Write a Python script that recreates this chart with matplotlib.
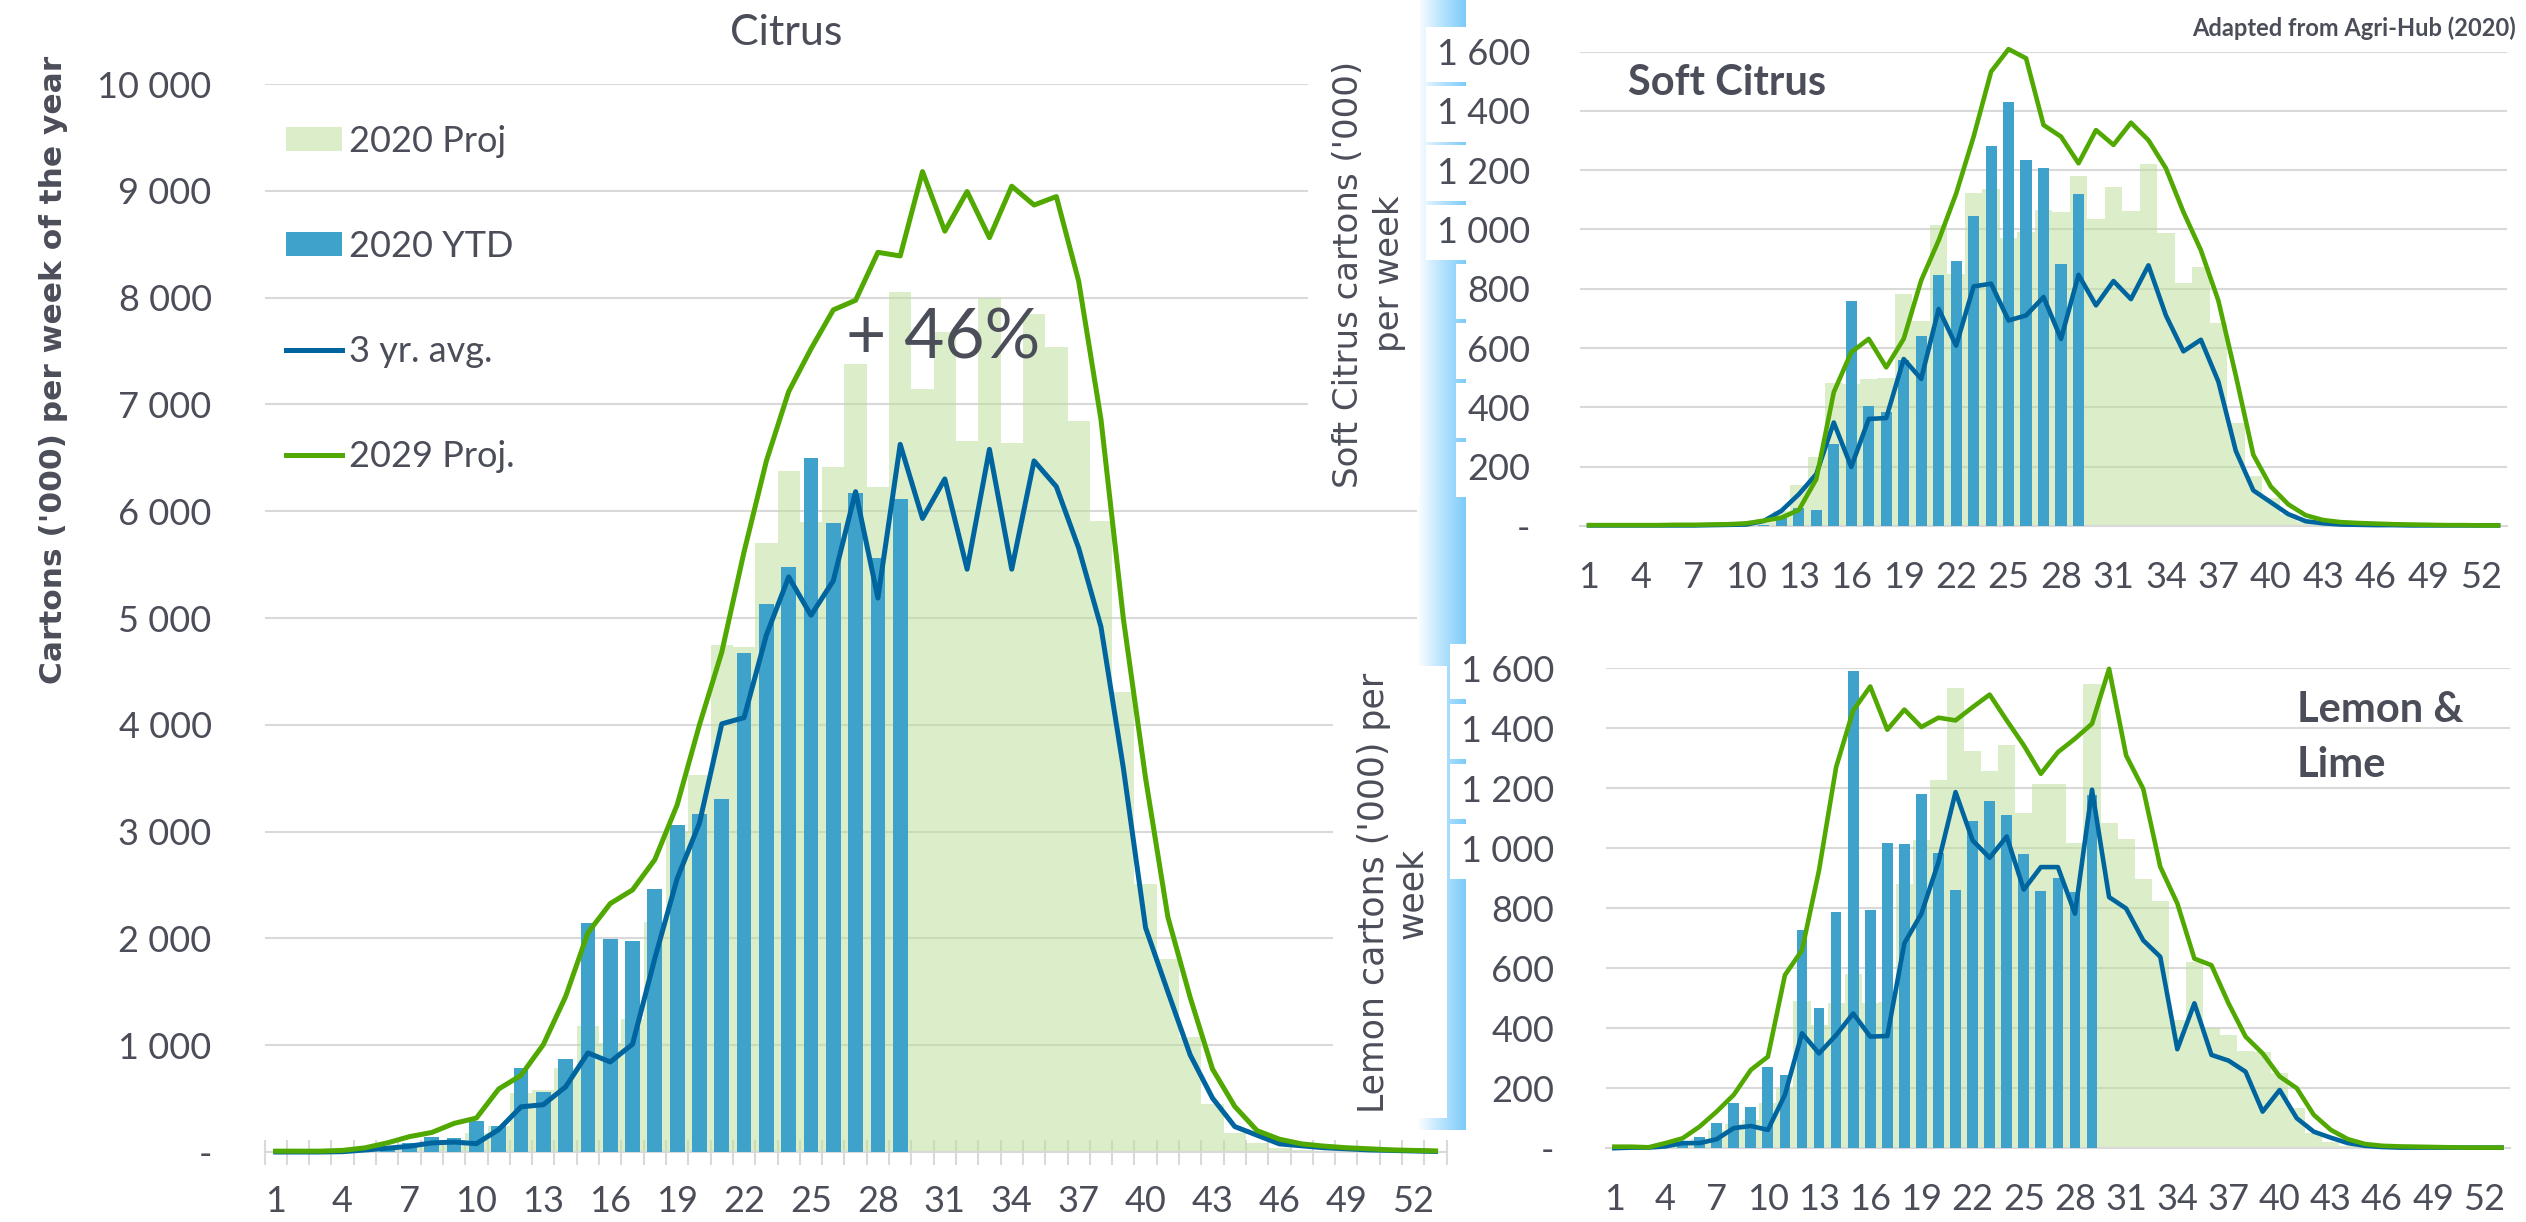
import matplotlib.pyplot as plt
import numpy as np
from matplotlib.patches import Rectangle
from matplotlib.colors import LinearSegmentedColormap

plt.rcParams['font.family'] = ['Lato', 'DejaVu Sans']

# ---- data (weeks 1..53) ----
weeks = list(range(1, 54))
label_weeks = list(range(1, 53, 3))
week_labels = [str(w) for w in label_weeks]

# Citrus (all), '000 cartons per week
citrus_proj2020 = [0, 0, 0, 5, 15, 30, 50, 80, 110, 180, 240, 550, 580, 790, 1180, 1020, 1250, 2150,
                   3000, 3530, 4745, 4730, 5700, 6380, 5900, 6410, 7380, 6230, 8050, 7140, 7680, 6660,
                   8000, 6640, 7850, 7540, 6840, 5910, 4310, 2510, 1810, 1080, 450, 180, 80, 35, 15, 8,
                   5, 3, 2, 1, 0]
citrus_ytd2020 = [0, 0, 0, 0, 10, 20, 82, 141, 130, 287, 242, 790, 559, 872, 2142, 1996, 1976, 2463,
                  3064, 3162, 3303, 4670, 5135, 5475, 6500, 5888, 6169, 5565, 6115]
citrus_avg3 = [0, 0, 0, 3, 19, 35, 54, 85, 93, 78, 210, 423, 443, 610, 928, 843, 1010, 1814, 2560,
               3080, 4009, 4067, 4840, 5385, 5025, 5349, 6183, 5187, 6626, 5932, 6302, 5457, 6579,
               5457, 6471, 6230, 5655, 4917, 3600, 2100, 1500, 909, 505, 238, 157, 76, 58, 40, 30,
               20, 15, 10, 5]
citrus_proj2029 = [8, 8, 8, 15, 39, 85, 144, 183, 268, 318, 590, 718, 1006, 1456, 2054, 2326, 2454,
                   2738, 3250, 4000, 4680, 5620, 6470, 7120, 7520, 7885, 7975, 8424, 8390, 9180, 8622,
                   8993, 8561, 9043, 8867, 8946, 8155, 6860, 5000, 3500, 2200, 1447, 777, 426, 200,
                   120, 76, 55, 40, 30, 20, 15, 10]

# Soft citrus
soft_proj2020 = [0, 0, 0, 0, 0, 0, 0, 0, 2, 5, 15, 50, 139, 231, 482, 480, 496, 499, 783, 691, 1016,
                 850, 1123, 1135, 970, 990, 1065, 1060, 1180, 1034, 1143, 1061, 1219, 989, 820, 872,
                 683, 347, 167, 93, 40, 15, 8, 5, 3, 2, 1, 1, 0, 0, 0, 0, 0]
soft_ytd2020 = [0, 0, 0, 0, 0, 0, 0, 0, 0, 0, 5, 26, 60, 54, 276, 758, 405, 386, 560, 642, 845, 895,
                1046, 1280, 1430, 1234, 1207, 882, 1121]
soft_avg3 = [2, 2, 2, 2, 2, 2, 2, 3, 4, 5, 17, 51, 107, 175, 349, 199, 361, 364, 563, 496, 732, 608,
             808, 817, 693, 710, 772, 631, 847, 744, 826, 765, 879, 710, 589, 628, 487, 253, 120, 80,
             40, 16, 9, 5, 4, 3, 3, 2, 2, 2, 2, 2, 2]
soft_proj2029 = [3, 3, 3, 3, 3, 4, 4, 5, 6, 9, 18, 28, 54, 158, 451, 586, 631, 535, 631, 828, 963,
                 1121, 1313, 1532, 1608, 1577, 1352, 1313, 1223, 1335, 1285, 1360, 1301, 1206, 1059,
                 930, 760, 507, 240, 133, 73, 36, 20, 13, 10, 8, 6, 5, 4, 3, 3, 2, 2]

# Lemon & lime
lemon_proj2020 = [0, 0, 0, 5, 20, 30, 60, 80, 95, 150, 200, 492, 411, 483, 580, 483, 488, 880, 1026,
                  1229, 1535, 1323, 1257, 1343, 1118, 1215, 1215, 1019, 1548, 1084, 1032, 897, 823,
                  429, 621, 400, 377, 325, 320, 250, 133, 50, 20, 8, 3, 0, 0, 0, 0, 0, 0, 0, 0]
lemon_ytd2020 = [0, 0, 0, 0, 10, 36, 83, 150, 136, 272, 244, 727, 469, 786, 1590, 793, 1019, 1015,
                 1182, 985, 860, 1091, 1157, 1110, 982, 857, 902, 854, 1176]
lemon_avg3 = [0, 2, 2, 6, 17, 17, 30, 67, 74, 61, 178, 383, 316, 377, 449, 372, 374, 683, 782, 954,
              1187, 1026, 968, 1039, 862, 937, 937, 782, 1195, 837, 799, 693, 638, 330, 483, 311, 292,
              255, 122, 194, 100, 55, 35, 17, 8, 4, 2, 2, 2, 2, 2, 2, 2]
lemon_proj2029 = [5, 5, 3, 17, 33, 72, 122, 178, 261, 305, 577, 660, 927, 1270, 1459, 1539, 1395,
                  1462, 1404, 1435, 1426, 1470, 1512, 1426, 1343, 1248, 1320, 1365, 1415, 1598, 1309,
                  1198, 938, 816, 632, 610, 483, 372, 316, 239, 200, 111, 61, 30, 14, 8, 6, 5, 4, 3,
                  2, 2, 2]

main_yticks = list(range(0, 10001, 1000))
main_ylabels = ['-'] + ['{:,}'.format(v).replace(',', ' ') for v in main_yticks[1:]]
small_yticks = list(range(0, 1601, 200))
small_ylabels = ['-'] + ['{:,}'.format(v).replace(',', ' ') for v in small_yticks[1:]]

series_names = ['2020 Proj', '2020 YTD', '3 yr. avg.', '2029 Proj.']

# ---- style ----
C_PROJ = '#bbdd97'
C_YTD = '#3fa2cb'
C_AVG = '#00659f'
C_2029 = '#50a800'
C_GRID = '#d9d9d9'
C_TEXT = '#4b4e59'

W, H = 2526, 1222


def px_axes(left, top, right, bottom):
    return [left / W, 1 - bottom / H, (right - left) / W, (bottom - top) / H]


def draw_panel(ax, proj, ytd, avg, p2029, bar_w, lw, yticks, ylabels, ypad, xpad):
    h_proj = ax.bar(weeks, proj, width=1.0, color=C_PROJ, alpha=0.5, zorder=2)
    h_ytd = ax.bar(weeks[:len(ytd)], ytd, width=bar_w, color=C_YTD, zorder=3)
    h_avg, = ax.plot(weeks, avg, color=C_AVG, lw=lw, zorder=4, clip_on=False)
    h_2029, = ax.plot(weeks, p2029, color=C_2029, lw=lw, zorder=5, clip_on=False)
    ax.set_xlim(0.5, 53.5)
    ax.set_ylim(yticks[0], yticks[-1])
    ax.set_yticks(yticks)
    ax.set_yticklabels(ylabels)
    ax.set_xticks(label_weeks, minor=True)
    ax.set_xticklabels(week_labels, minor=True)
    ax.set_axisbelow(True)
    ax.grid(axis='y', color=C_GRID, lw=1.5)
    for s in ['top', 'right', 'left']:
        ax.spines[s].set_visible(False)
    ax.spines['bottom'].set_color(C_GRID)
    ax.spines['bottom'].set_linewidth(1.5)
    ax.tick_params(axis='y', length=0, pad=ypad, labelsize=26, labelcolor=C_TEXT)
    ax.tick_params(axis='x', which='minor', length=0, pad=xpad, labelsize=26, labelcolor=C_TEXT)
    return [h_proj, h_ytd, h_avg, h_2029]


fig = plt.figure(figsize=(W / 100, H / 100), dpi=100)

# main citrus chart
ax = fig.add_axes(px_axes(264.5, 84, 1446.7, 1152))
handles = draw_panel(ax, citrus_proj2020, citrus_ytd2020, citrus_avg3, citrus_proj2029, 0.66, 3.6,
                     main_yticks, main_ylabels, 38, 24)
ax.set_xticks(np.arange(0.5, 54, 1))
ax.set_xticklabels([])
ax.tick_params(axis='x', which='major', direction='inout', length=18, width=1.5, color=C_GRID)
ax.legend(handles, series_names, loc='upper left', bbox_to_anchor=(0.018, 0.962), frameon=False,
          fontsize=26, labelcolor=C_TEXT, handlelength=1.55, handleheight=0.66,
          handletextpad=0.2, labelspacing=2.0, borderpad=0, borderaxespad=0)
fig.text(786 / W, 1 - 33 / H, 'Citrus', ha='center', va='center', fontsize=31, color=C_TEXT)
fig.text(54 / W, 1 - 370 / H, "Cartons ('000) per week of the year", rotation=90,
         ha='center', va='center', fontsize=22.5, fontweight='bold', color=C_TEXT,
         family=['DejaVu Sans'])
fig.text(943 / W, 1 - 339 / H, '+ 46%', ha='center', va='center', fontsize=50, color=C_TEXT)

# blue gradient strip between the panels
sax = fig.add_axes(px_axes(1417, 0, 1466, 1130), zorder=1)
grad = np.linspace(0, 1, 256).reshape(1, -1)
cmap = LinearSegmentedColormap.from_list('strip', ['#ffffff', '#b9e3fd', '#7ccbfa'])
sax.imshow(grad, aspect='auto', cmap=cmap, extent=(0, 1, 0, 1))
sax.set_axis_off()

for (l, t, r, b) in [(1308, 0, 1420, 495), (1333, 666, 1447, 1118)]:
    fig.add_artist(Rectangle((l / W, 1 - b / H), (r - l) / W, (b - t) / H, transform=fig.transFigure,
                             facecolor='white', edgecolor='none', zorder=2))

# soft citrus
ax2 = fig.add_axes(px_axes(1580.3, 51.5, 2506.8, 526), zorder=3)
draw_panel(ax2, soft_proj2020, soft_ytd2020, soft_avg3, soft_proj2029, 0.64, 3.3,
           small_yticks, small_ylabels, 36, 25)
ax2.set_xticks([])
ax2.patch.set_alpha(0)

# lemon & lime
ax3 = fig.add_axes(px_axes(1605.8, 668.2, 2510, 1148.2), zorder=3)
draw_panel(ax3, lemon_proj2020, lemon_ytd2020, lemon_avg3, lemon_proj2029, 0.63, 3.3,
           small_yticks, small_ylabels, 37, 25)
ax3.set_xticks([])
ax3.patch.set_alpha(0)

for a in (ax2, ax3):
    for lab in a.get_yticklabels():
        lab.set_bbox(dict(facecolor='white', edgecolor='none', pad=8))

fig.text(1369 / W, 1 - 274 / H, "Soft Citrus cartons ('000)\nper week", rotation=90, ha='center',
         va='center', fontsize=24.5, color=C_TEXT, family=['DejaVu Sans'], zorder=5,
         linespacing=1.3)
fig.text(1393 / W, 1 - 893 / H, "Lemon cartons ('000) per\nweek", rotation=90, ha='center',
         va='center', fontsize=25, color=C_TEXT, family=['DejaVu Sans'], zorder=5,
         linespacing=1.15)

fig.text(1628 / W, 1 - 95 / H, 'Soft Citrus', ha='left', va='baseline', fontsize=30,
         fontweight='bold', color=C_TEXT)
fig.text(2297 / W, 1 - 722 / H, 'Lemon &', ha='left', va='baseline', fontsize=30,
         fontweight='bold', color=C_TEXT)
fig.text(2297 / W, 1 - 777 / H, 'Lime', ha='left', va='baseline', fontsize=30,
         fontweight='bold', color=C_TEXT)
fig.text(2516 / W, 1 - 28 / H, 'Adapted from Agri-Hub (2020)', ha='right', va='center',
         fontsize=17, fontweight='bold', color=C_TEXT)

fig.savefig('out.png', dpi=100)
